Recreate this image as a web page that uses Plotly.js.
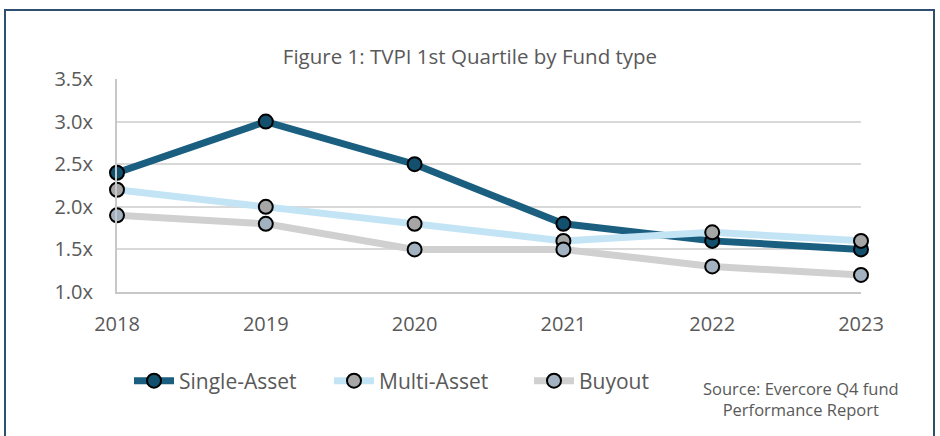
<!DOCTYPE html>
<html>
<head>
<meta charset="utf-8">
<script src="https://cdn.plot.ly/plotly-3.0.1.min.js"></script>
<style>html,body{margin:0;padding:0;background:#fff;}#chart{width:940px;height:436px;}</style>
</head>
<body>
<div id="chart"></div>
<script>
const years = ["2018", "2019", "2020", "2021", "2022", "2023"];
const singleAsset = [2.4, 3.0, 2.5, 1.8, 1.6, 1.5];
const multiAsset = [2.2, 2.0, 1.8, 1.6, 1.7, 1.6];
const buyout = [1.9, 1.8, 1.5, 1.5, 1.3, 1.2];
const yTickVals = [1.0, 1.5, 2.0, 2.5, 3.0, 3.5];
const yTickText = ["1.0x", "1.5x", "2.0x", "2.5x", "3.0x", "3.5x"];

const font = "'Open Sans', 'Noto Sans', sans-serif";
const textColor = "#595959";

function tr(name, y, lineColor, markerColor) {
  return {
    type: "scatter", mode: "lines+markers", name: name, x: years, y: y,
    line: {color: lineColor, width: 7},
    marker: {size: 14, color: markerColor, line: {color: "#000", width: 2}},
    cliponaxis: false
  };
}

const data = [
  tr("Single-Asset", singleAsset, "#1a5e80", "#13506e"),
  tr("Multi-Asset", multiAsset, "#c3e4f5", "#a6a6a6"),
  tr("Buyout", buyout, "#d0d0d0", "#a3b2c1")
];

const L = 117, R = 861, T = 79, B = 292;
const pw = R - L, ph = B - T;
function px(x) { return (x - L) / pw; }
function py(y) { return (B - y) / ph; }

const layout = {
  width: 940, height: 436,
  margin: {l: L, r: 940 - R, t: T, b: 436 - B},
  paper_bgcolor: "#fff", plot_bgcolor: "#fff",
  font: {family: font, color: textColor, size: 19},
  title: {text: "Figure 1: TVPI 1st Quartile by Fund type", x: 0.5, xanchor: "center", y: 1 - 57/436, yanchor: "middle", font: {size: 20.5, color: textColor, family: font}},
  xaxis: {
    type: "category", range: [0, 5], showgrid: false, zeroline: false,
    showline: true, linecolor: "#c8c8c8", linewidth: 2,
    ticks: "outside", ticklen: 13, tickcolor: "rgba(0,0,0,0)",
    tickfont: {size: 20, color: textColor, family: font}
  },
  yaxis: {
    range: [1.0, 3.5], tickvals: yTickVals, ticktext: yTickText,
    showgrid: true, gridcolor: "#d9d9d9", gridwidth: 2, zeroline: false,
    showline: true, linecolor: "#c8c8c8", linewidth: 2,
    ticks: "outside", ticklen: 18, tickcolor: "rgba(0,0,0,0)",
    tickfont: {size: 20, color: textColor, family: font}
  },
  showlegend: true,
  legend: {
    orientation: "h", x: px(129), xanchor: "left", y: py(381), yanchor: "middle",
    font: {size: 21, color: textColor, family: font},
    bgcolor: "rgba(0,0,0,0)", itemwidth: 40, tracegroupgap: 0, entrywidth: 145
  },
  annotations: [{
    xref: "paper", yref: "paper", x: px(801), y: py(399), xanchor: "center", yanchor: "middle",
    text: "Source: Evercore Q4 fund<br>Performance Report", showarrow: false, align: "center",
    font: {size: 16.5, color: textColor, family: font}
  }],
  shapes: [{
    type: "rect", xref: "paper", yref: "paper",
    x0: px(5), x1: px(934), y0: py(445), y1: py(10),
    line: {color: "#2e4f70", width: 2}, fillcolor: "rgba(0,0,0,0)", layer: "below"
  }]
};

Plotly.newPlot("chart", data, layout, {displayModeBar: false, staticPlot: true});
</script>
</body>
</html>
